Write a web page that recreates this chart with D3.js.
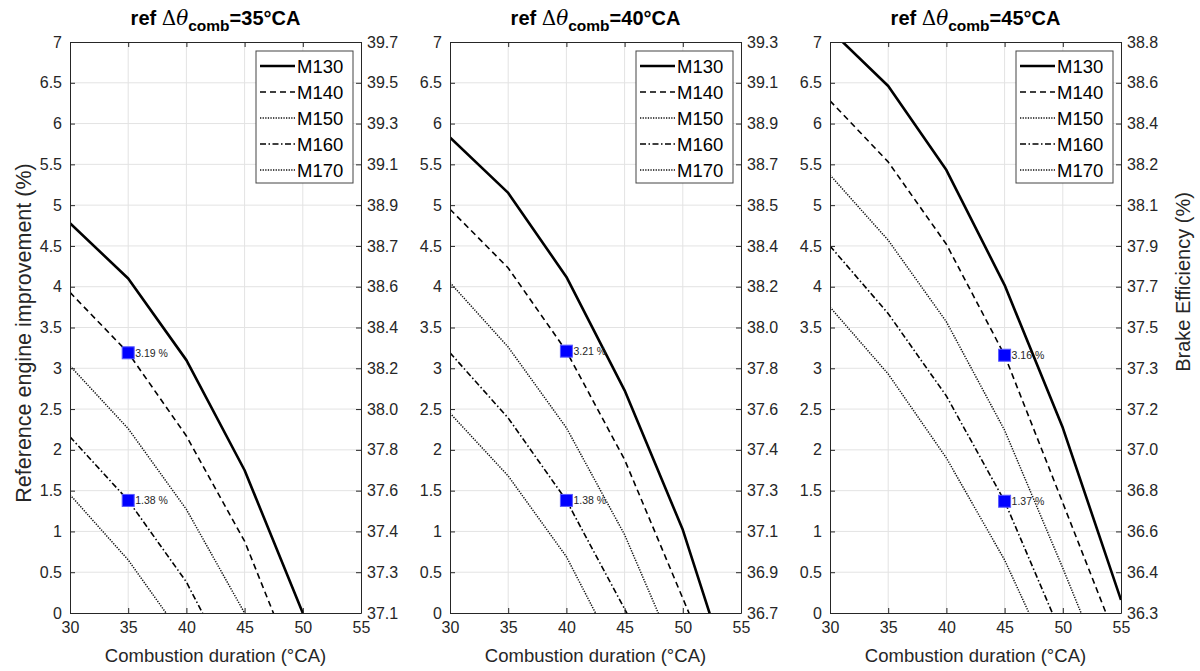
<!DOCTYPE html>
<html><head><meta charset="utf-8">
<script src="https://cdn.jsdelivr.net/npm/d3@7"></script>
<style>
body{margin:0;background:#fff}
text{font-family:"Liberation Sans",Arial,Helvetica,sans-serif}
</style>
</head><body>
<svg id="chart" width="1200" height="671"></svg>
<script>
// ---------------- DATA ----------------
const xValues = [30, 35, 40, 45, 50, 55];
const xTicks = [30, 35, 40, 45, 50, 55];
const yTicks = [0, 0.5, 1, 1.5, 2, 2.5, 3, 3.5, 4, 4.5, 5, 5.5, 6, 6.5, 7];
const seriesNames = ["M130", "M140", "M150", "M160", "M170"];
const refDurations = ["35", "40", "45"];

// Panel 1: ref 35 °CA (values at x = 30..55, null = no point)
const p1_M130 = [4.78, 4.10, 3.10, 1.75, 0.00, null];
const p1_M140 = [3.93, 3.19, 2.17, 0.88, -0.90, null];
const p1_M150 = [3.03, 2.26, 1.27, 0.00, null, null];
const p1_M160 = [2.16, 1.38, 0.38, -1.00, null, null];
const p1_M170 = [1.45, 0.65, -0.35, null, null, null];

// Panel 2: ref 40 °CA
const p2_M130 = [5.83, 5.15, 4.12, 2.73, 1.02, -1.20];
const p2_M140 = [4.95, 4.23, 3.21, 1.88, 0.18, -1.52];
const p2_M150 = [4.05, 3.26, 2.27, 0.96, -0.70, null];
const p2_M160 = [3.19, 2.39, 1.38, 0.05, -1.30, null];
const p2_M170 = [2.45, 1.68, 0.69, -0.69, null, null];

// Panel 3: ref 45 °CA
const p3_M130 = [7.15, 6.46, 5.43, 4.02, 2.27, 0.16];
const p3_M140 = [6.28, 5.53, 4.52, 3.16, 1.35, -0.47];
const p3_M150 = [5.37, 4.57, 3.57, 2.24, 0.55, -1.20];
const p3_M160 = [4.50, 3.67, 2.66, 1.37, -0.30, null];
const p3_M170 = [3.75, 2.93, 1.90, 0.65, -0.90, null];

// Highlighted points (x, y, label)
const p1_marks_x = [35, 35], p1_marks_y = [3.19, 1.38], p1_marks_lbl = ["3.19 %", "1.38 %"];
const p2_marks_x = [40, 40], p2_marks_y = [3.21, 1.38], p2_marks_lbl = ["3.21 %", "1.38 %"];
const p3_marks_x = [45, 45], p3_marks_y = [3.16, 1.37], p3_marks_lbl = ["3.16 %", "1.37 %"];

// Right-axis (Brake Efficiency) tick labels, bottom to top
const p1_rightTicks = ["37.1","37.3","37.4","37.6","37.8","38.0","38.2","38.4","38.6","38.7","38.9","39.1","39.3","39.5","39.7"];
const p2_rightTicks = ["36.7","36.9","37.1","37.3","37.4","37.6","37.8","38.0","38.2","38.4","38.5","38.7","38.9","39.1","39.3"];
const p3_rightTicks = ["36.3","36.4","36.6","36.8","37.0","37.2","37.3","37.5","37.7","37.9","38.1","38.2","38.4","38.6","38.8"];

// ---------------- LAYOUT / STYLE ----------------
const panels = [
  {left: 70,  ref: refDurations[0], series: [p1_M130,p1_M140,p1_M150,p1_M160,p1_M170], mx: p1_marks_x, my: p1_marks_y, ml: p1_marks_lbl, rt: p1_rightTicks},
  {left: 450, ref: refDurations[1], series: [p2_M130,p2_M140,p2_M150,p2_M160,p2_M170], mx: p2_marks_x, my: p2_marks_y, ml: p2_marks_lbl, rt: p2_rightTicks},
  {left: 830, ref: refDurations[2], series: [p3_M130,p3_M140,p3_M150,p3_M160,p3_M170], mx: p3_marks_x, my: p3_marks_y, ml: p3_marks_lbl, rt: p3_rightTicks}
];
const W = 291, TOP = 42, BOTTOM = 613;
const AX = "#262626";
const styles = [
  {w: 2.6, dash: null,            col: "#000"},
  {w: 1.6, dash: "6,4",           col: "#000"},
  {w: 1.5, dash: "1.3,1.3",       col: "#111"},
  {w: 1.6, dash: "6,2.5,1.5,2.5", col: "#000"},
  {w: 1.5, dash: "1.3,1.3",       col: "#111"}
];

const svg = d3.select("#chart");
const defs = svg.append("defs");

panels.forEach((p, pi) => {
  const x = d3.scaleLinear().domain([30, 55]).range([p.left, p.left + W]);
  const y = d3.scaleLinear().domain([0, 7]).range([BOTTOM, TOP]);
  const g = svg.append("g");

  // grid
  g.append("g").selectAll("line").data(xTicks.slice(1, -1)).join("line")
    .attr("x1", d => x(d)).attr("x2", d => x(d)).attr("y1", TOP).attr("y2", BOTTOM)
    .attr("stroke", "#e3e3e3").attr("stroke-width", 1);
  g.append("g").selectAll("line").data(yTicks.slice(1, -1)).join("line")
    .attr("x1", p.left).attr("x2", p.left + W).attr("y1", d => y(d)).attr("y2", d => y(d))
    .attr("stroke", "#e3e3e3").attr("stroke-width", 1);

  // clip
  const cid = "clip" + pi;
  defs.append("clipPath").attr("id", cid).append("rect")
    .attr("x", p.left).attr("y", TOP).attr("width", W).attr("height", BOTTOM - TOP);

  // lines
  const line = d3.line().defined(d => d[1] !== null).x(d => x(d[0])).y(d => y(d[1]));
  const lg = g.append("g").attr("clip-path", `url(#${cid})`);
  p.series.forEach((vals, si) => {
    const pts = xValues.map((xv, i) => [xv, vals[i]]);
    const st = styles[si];
    lg.append("path").datum(pts).attr("d", line)
      .attr("fill", "none").attr("stroke", st.col).attr("stroke-width", st.w)
      .attr("stroke-dasharray", st.dash).attr("stroke-linejoin", "round");
  });

  // axes
  const axStyle = sel => {
    sel.select(".domain").attr("stroke", AX);
    sel.selectAll(".tick line").attr("stroke", AX);
    sel.selectAll(".tick text").attr("fill", AX).style("font-size", "16px")
      .style("font-family", '"Liberation Sans",Arial,sans-serif');
  };
  g.append("g").attr("transform", `translate(0,${BOTTOM})`)
    .call(d3.axisBottom(x).tickValues(xTicks).tickSize(-5).tickSizeOuter(0).tickPadding(9).tickFormat(d3.format("d")))
    .call(axStyle);
  g.append("g").attr("transform", `translate(0,${TOP})`)
    .call(d3.axisTop(x).tickValues(xTicks).tickSize(-5).tickSizeOuter(0).tickFormat(""))
    .call(axStyle);
  g.append("g").attr("transform", `translate(${p.left},0)`)
    .call(d3.axisLeft(y).tickValues(yTicks).tickSize(-5).tickSizeOuter(0).tickPadding(8).tickFormat(d => String(d)))
    .call(axStyle);
  g.append("g").attr("transform", `translate(${p.left + W},0)`)
    .call(d3.axisRight(y).tickValues(yTicks).tickSize(-5).tickSizeOuter(0).tickPadding(6).tickFormat((d, i) => p.rt[i]))
    .call(axStyle);

  // highlighted markers
  p.mx.forEach((mx, i) => {
    const cx = x(mx), cy = y(p.my[i]);
    g.append("rect").attr("x", cx - 6).attr("y", cy - 6).attr("width", 12).attr("height", 12)
      .attr("fill", "#0000ff").attr("stroke", "#5a5aff").attr("stroke-width", 1);
    g.append("text").attr("x", cx + 7).attr("y", cy + 4).text(p.ml[i])
      .attr("fill", AX).style("font-size", "10.5px");
  });

  // title
  const t = g.append("text").attr("x", p.left + W / 2).attr("y", 25).attr("text-anchor", "middle")
    .style("font-size", "20px").style("font-weight", "bold").attr("fill", "#000");
  t.append("tspan").text("ref ");
  t.append("tspan").text("\u0394").style("font-family", '"DejaVu Serif",serif').style("font-weight", "normal");
  t.append("tspan").text("\u03B8").style("font-family", '"DejaVu Serif",serif').style("font-style", "italic").style("font-weight", "normal");
  t.append("tspan").text("comb").attr("dy", 6).style("font-size", "15.5px");
  t.append("tspan").text(`=${p.ref}\u00B0CA`).attr("dy", -6);

  // x label
  g.append("text").attr("x", p.left + W / 2).attr("y", 662).attr("text-anchor", "middle")
    .style("font-size", "18.5px").attr("fill", AX).text("Combustion duration (\u00B0CA)");

  // legend
  const lw = 97, lh = 132, lx = p.left + W - 8 - lw, ly = 51;
  const leg = g.append("g");
  leg.append("rect").attr("x", lx).attr("y", ly).attr("width", lw).attr("height", lh)
    .attr("fill", "#fff").attr("stroke", "#444").attr("stroke-width", 1);
  seriesNames.forEach((nm, si) => {
    const yy = ly + 15 + si * 26, st = styles[si];
    leg.append("line").attr("x1", lx + 4).attr("x2", lx + 39).attr("y1", yy).attr("y2", yy)
      .attr("stroke", st.col).attr("stroke-width", st.w).attr("stroke-dasharray", st.dash);
    leg.append("text").attr("x", lx + 41).attr("y", yy + 7).text(nm)
      .style("font-size", "18.5px").attr("fill", "#000");
  });
});

// y labels
svg.append("text").attr("transform", "translate(31,333) rotate(-90)").attr("text-anchor", "middle")
  .style("font-size", "21.5px").attr("fill", AX).text("Reference engine improvement (%)");
svg.append("text").attr("transform", "translate(1190,282) rotate(-90)").attr("text-anchor", "middle")
  .style("font-size", "20px").attr("fill", AX).text("Brake Efficiency (%)");
</script>
</body></html>
